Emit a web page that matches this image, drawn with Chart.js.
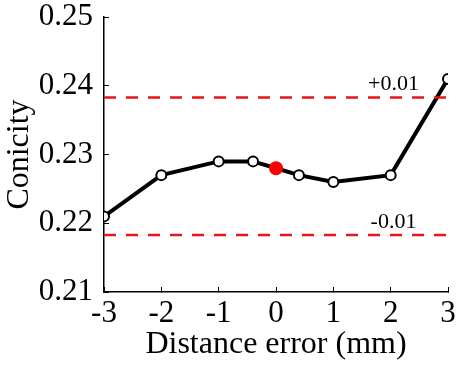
<!DOCTYPE html>
<html>
<head>
<meta charset="utf-8">
<script src="https://cdn.jsdelivr.net/npm/chart.js@4.4.1/dist/chart.umd.min.js"></script>
<style>
  html, body { margin: 0; padding: 0; background: #fff; }
  #wrap { width: 461px; height: 366px; }
</style>
</head>
<body>
<div id="wrap"><canvas id="chart" width="461" height="366"></canvas></div>
<script>
// data
const distErr = [-3, -2, -1, -0.4, 0, 0.4, 1, 2, 3];
const conicity = [0.221, 0.227, 0.229, 0.229, 0.228, 0.227, 0.226, 0.227, 0.241];
const refIndex = 4; // the red point at 0 mm
const limitValues = [0.2383, 0.2183];
const limitLabels = ['+0.01', '-0.01'];
const xTicks = [-3, -2, -1, 0, 1, 2, 3];
const yTicks = [0.21, 0.22, 0.23, 0.24, 0.25];

const serif = 'Liberation Serif';

const pts = distErr.map((x, i) => ({ x: x, y: conicity[i] }));
const pointFill = distErr.map((x, i) => i === refIndex ? '#ff0000' : '#ffffff');
const pointEdge = distErr.map((x, i) => i === refIndex ? '#ff0000' : '#000000');
const pointSize = distErr.map((x, i) => i === refIndex ? 6 : 5);

const limitSets = limitValues.map(v => ({
    data: [{ x: xTicks[0], y: v }, { x: xTicks[xTicks.length - 1], y: v }],
    borderColor: '#e8141a',
    borderWidth: 2.5,
    borderDash: [12, 10],
    pointRadius: 0,
    clip: 0
}));

//labels over the dashed lines
const limitText = {
    id: 'limitText',
    afterDatasetsDraw(chart) {
        const ctx = chart.ctx;
        const xs = chart.scales.x, ys = chart.scales.y;
        ctx.save();
        ctx.font = '22px "' + serif + '"';
        ctx.fillStyle = '#000';
        ctx.textAlign = 'center';
        ctx.textBaseline = 'alphabetic';
        limitValues.forEach((v, i) => {
            ctx.fillText(limitLabels[i], xs.getPixelForValue(2.05), ys.getPixelForValue(v) - 7);
        });
        ctx.restore();
    }
};

const config = {
    type: 'line',
    data: {
        datasets: [
            ...limitSets,
            {
                data: pts,
                borderColor: '#000',
                borderWidth: 4,
                pointBackgroundColor: pointFill,
                pointBorderColor: pointEdge,
                pointBorderWidth: 2,
                pointRadius: pointSize,
                clip: 0
            }
        ]
    },
    options: {
        responsive: false,
        animation: false,
        layout: { padding: { top: 17, right: 13, left: 0, bottom: 0 } },
        plugins: { legend: { display: false }, tooltip: { enabled: false } },
        scales: {
            x: {
                type: 'linear',
                min: -3, max: 3,
                afterBuildTicks: s => { s.ticks = xTicks.map(v => ({ value: v })); },
                afterFit: s => { s.height = 74; s.paddingLeft = 0; s.paddingRight = 0; },
                border: { color: '#000', width: 1.5 },
                grid: { drawOnChartArea: false, drawTicks: true, tickLength: -5, color: '#000', lineWidth: 1 },
                ticks: {
                    color: '#000',
                    padding: 8,
                    maxRotation: 0,
                    font: { family: serif, size: 31 },
                    callback: v => String(v)
                },
                title: {
                    display: true,
                    text: 'Distance error (mm)',
                    color: '#000',
                    padding: { top: 0, bottom: 2 },
                    font: { family: serif, size: 32 }
                }
            },
            y: {
                min: 0.21, max: 0.25,
                afterBuildTicks: s => { s.ticks = yTicks.map(v => ({ value: v })); },
                afterFit: s => { s.width = 104; s.paddingTop = 0; s.paddingBottom = 0; },
                border: { color: '#000', width: 1.5 },
                grid: { drawOnChartArea: false, drawTicks: true, tickLength: -5, color: '#000', lineWidth: 1 },
                ticks: {
                    color: '#000',
                    padding: 16,
                    font: { family: serif, size: 31 },
                    callback: v => v.toFixed(2)
                },
                title: {
                    display: true,
                    text: 'Conicity',
                    color: '#000',
                    padding: { top: 0, bottom: 0 },
                    font: { family: serif, size: 32 }
                }
            }
        }
    },
    plugins: [limitText]
};

const myChart = new Chart(document.getElementById('chart').getContext('2d'), config);
</script>
</body>
</html>
